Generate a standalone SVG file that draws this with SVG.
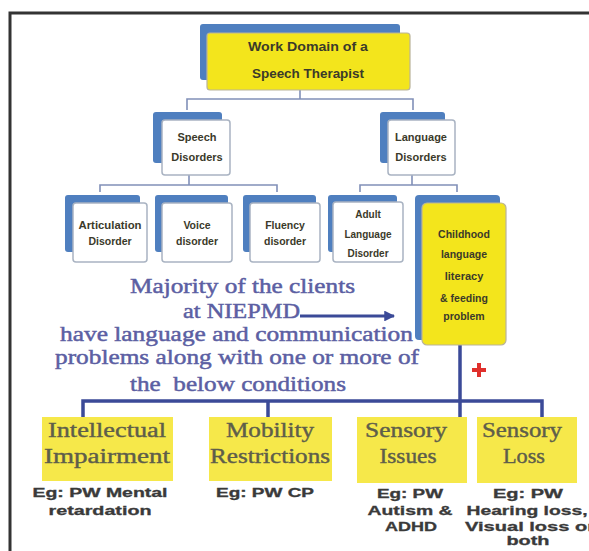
<svg xmlns="http://www.w3.org/2000/svg" width="589" height="551" viewBox="0 0 589 551">
<defs>
<style>
.back{fill:#4f7fbf;}
.front{fill:#ffffff;stroke:#a9b3c2;stroke-width:1.5;}
.yel{fill:#f3e51c;stroke:#b9b39a;stroke-width:1.2;}
.ybox{fill:#f6e84a;}
.nt{font-family:"Liberation Sans",Arial,sans-serif;font-weight:bold;fill:#3b3a2a;text-anchor:middle;}
.main{font-family:"Liberation Serif","Times New Roman",serif;font-size:22px;fill:#5c5fa3;stroke:#5c5fa3;stroke-width:0.5;}
.bt{font-family:"Liberation Serif","Times New Roman",serif;font-size:20px;fill:#5e5e4a;stroke:#5e5e4a;stroke-width:0.4;text-anchor:middle;}
.eg{font-family:"Liberation Sans",Arial,sans-serif;font-weight:bold;font-size:12px;fill:#3a3a3a;stroke:#3a3a3a;stroke-width:0.3;text-anchor:middle;}
.thin{fill:none;stroke:#8190b8;stroke-width:1.6;}
.thick{fill:none;stroke:#3b4a98;stroke-width:3.5;}
</style>
<marker id="ah" viewBox="0 0 10 10" refX="9" refY="5" markerWidth="3.6" markerHeight="3.6" orient="auto">
<path d="M0,0 L10,5 L0,10 z" fill="#3b4a98"/>
</marker>
</defs>
<rect width="589" height="551" fill="#ffffff"/>
<path d="M589 13 H10 V551" fill="none" stroke="#333" stroke-width="3"/>

<g id="connectors">
<path class="thin" d="M300 90 V99 M187 110 V99 H413 V110"/>
<path class="thin" d="M189 175 V185 M100 192 V185 H277 V192"/>
<path class="thin" d="M412 175 V185 M360 192 V185 H457 V192"/>
<path class="thick" d="M460 345 V417 M83 417 V401 H542 V417 M268 401 V417"/>
<path d="M300 316 H394" stroke="#3b4a98" stroke-width="3" fill="none" marker-end="url(#ah)"/>
<path d="M472 370 H486 M479 363 V377" stroke="#e0302c" stroke-width="4" fill="none"/>
</g>

<g id="n-root">
<rect class="back" x="200" y="24" width="200" height="56" rx="3"/>
<rect class="yel" x="207" y="33" width="203" height="57" rx="3"/>
<text class="nt" x="308" y="51" font-size="12" textLength="120" lengthAdjust="spacingAndGlyphs">Work Domain of a</text>
<text class="nt" x="308" y="78" font-size="12" textLength="112" lengthAdjust="spacingAndGlyphs">Speech Therapist</text>
</g>

<g id="n-speech">
<rect class="back" x="153" y="112" width="69" height="51" rx="3"/>
<rect class="front" x="162" y="120" width="68" height="55" rx="3"/>
<text class="nt" x="197" y="141" font-size="11">Speech</text>
<text class="nt" x="197" y="161" font-size="11">Disorders</text>
</g>

<g id="n-language">
<rect class="back" x="380" y="112" width="65" height="51" rx="3"/>
<rect class="front" x="388" y="120" width="67" height="55" rx="3"/>
<text class="nt" x="421" y="141" font-size="11">Language</text>
<text class="nt" x="421" y="161" font-size="11">Disorders</text>
</g>

<g id="n-articulation">
<rect class="back" x="65" y="195" width="75" height="57" rx="3"/>
<rect class="front" x="73" y="203" width="74" height="59" rx="3"/>
<text class="nt" x="110" y="229" font-size="10.5" textLength="63" lengthAdjust="spacingAndGlyphs">Articulation</text>
<text class="nt" x="110" y="245" font-size="10.5">Disorder</text>
</g>

<g id="n-voice">
<rect class="back" x="155" y="195" width="73" height="57" rx="3"/>
<rect class="front" x="162" y="203" width="70" height="59" rx="3"/>
<text class="nt" x="197" y="229" font-size="10.5">Voice</text>
<text class="nt" x="197" y="245" font-size="10.5">disorder</text>
</g>

<g id="n-fluency">
<rect class="back" x="243" y="195" width="73" height="57" rx="3"/>
<rect class="front" x="250" y="203" width="70" height="59" rx="3"/>
<text class="nt" x="285" y="229" font-size="10.5">Fluency</text>
<text class="nt" x="285" y="245" font-size="10.5">disorder</text>
</g>

<g id="n-adult">
<rect class="back" x="328" y="195" width="69" height="57" rx="3"/>
<rect class="front" x="333" y="202" width="70" height="60" rx="3"/>
<text class="nt" x="368" y="218" font-size="10">Adult</text>
<text class="nt" x="368" y="238" font-size="10">Language</text>
<text class="nt" x="368" y="257" font-size="10">Disorder</text>
</g>

<g id="n-childhood">
<rect class="back" x="415" y="195" width="85" height="145" rx="4"/>
<rect class="yel" x="422" y="203" width="84" height="142" rx="5"/>
<text class="nt" x="464" y="238" font-size="10.5">Childhood</text>
<text class="nt" x="464" y="258" font-size="10.5">language</text>
<text class="nt" x="464" y="280" font-size="11" font-weight="900">literacy</text>
<text class="nt" x="464" y="302" font-size="10.5">&amp; feeding</text>
<text class="nt" x="464" y="320" font-size="10.5">problem</text>
</g>

<g id="n-note">
<text class="main" x="130" y="293" textLength="225" lengthAdjust="spacingAndGlyphs">Majority of the clients</text>
<text class="main" x="183" y="318" textLength="117" lengthAdjust="spacingAndGlyphs">at NIEPMD</text>
<text class="main" x="60" y="341" textLength="353" lengthAdjust="spacingAndGlyphs">have language and communication</text>
<text class="main" x="55" y="364" textLength="364" lengthAdjust="spacingAndGlyphs">problems along with one or more of</text>
<text class="main" x="130" y="391" textLength="216" lengthAdjust="spacingAndGlyphs" xml:space="preserve">the  below conditions</text>
</g>

<g id="n-intellectual">
<rect class="ybox" x="42" y="417" width="131" height="64"/>
<text class="bt" x="107" y="437" textLength="118" lengthAdjust="spacingAndGlyphs">Intellectual</text>
<text class="bt" x="107" y="463" textLength="126" lengthAdjust="spacingAndGlyphs">Impairment</text>
<text class="eg" x="100" y="497" textLength="135" lengthAdjust="spacingAndGlyphs">Eg: PW Mental</text>
<text class="eg" x="100" y="515" textLength="103" lengthAdjust="spacingAndGlyphs">retardation</text>
</g>

<g id="n-mobility">
<rect class="ybox" x="209" y="417" width="123" height="64"/>
<text class="bt" x="270" y="437" textLength="88" lengthAdjust="spacingAndGlyphs">Mobility</text>
<text class="bt" x="270" y="463" textLength="120" lengthAdjust="spacingAndGlyphs">Restrictions</text>
<text class="eg" x="265" y="497" textLength="98" lengthAdjust="spacingAndGlyphs">Eg: PW CP</text>
</g>

<g id="n-issues">
<rect class="ybox" x="357" y="417" width="110" height="66"/>
<text class="bt" x="406" y="437" textLength="82" lengthAdjust="spacingAndGlyphs">Sensory</text>
<text class="bt" x="408" y="463" textLength="57" lengthAdjust="spacingAndGlyphs">Issues</text>
<text class="eg" x="410" y="498" textLength="66" lengthAdjust="spacingAndGlyphs">Eg: PW</text>
<text class="eg" x="410" y="515" textLength="85" lengthAdjust="spacingAndGlyphs">Autism &amp;</text>
<text class="eg" x="411" y="531" textLength="52" lengthAdjust="spacingAndGlyphs">ADHD</text>
</g>

<g id="n-loss">
<rect class="ybox" x="477" y="417" width="100" height="66"/>
<text class="bt" x="522" y="437" textLength="80" lengthAdjust="spacingAndGlyphs">Sensory</text>
<text class="bt" x="524" y="463" textLength="42" lengthAdjust="spacingAndGlyphs">Loss</text>
<text class="eg" x="528" y="498" textLength="70" lengthAdjust="spacingAndGlyphs">Eg: PW</text>
<text class="eg" x="527" y="515" textLength="121" lengthAdjust="spacingAndGlyphs">Hearing loss,</text>
<text class="eg" x="530" y="531" textLength="130" lengthAdjust="spacingAndGlyphs">Visual loss or</text>
<text class="eg" x="528" y="545" textLength="43" lengthAdjust="spacingAndGlyphs">both</text>
</g>
</svg>
